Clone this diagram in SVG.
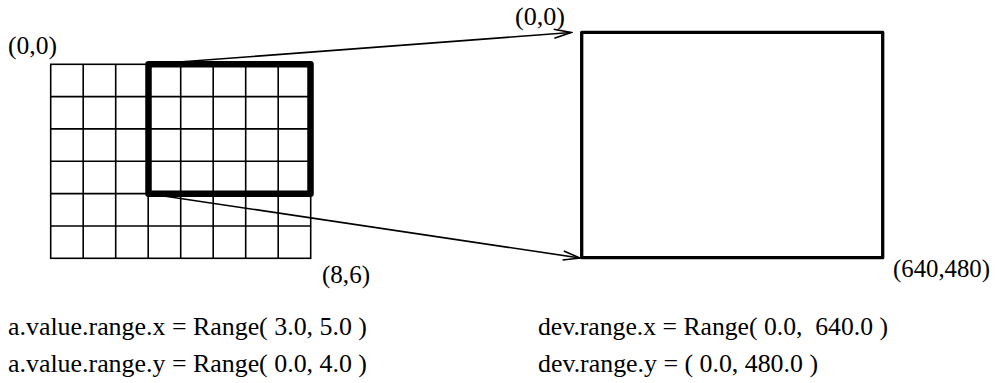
<svg xmlns="http://www.w3.org/2000/svg" width="996" height="383" viewBox="0 0 996 383">
  <style>
    .grid { stroke: #000; stroke-width: 1.6; fill: none; }
    .thick { stroke: #000; stroke-width: 6.5; fill: none; stroke-linejoin: round; }
    .dev { stroke: #000; stroke-width: 3.3; fill: none; stroke-linejoin: round; }
    .conn { stroke: #000; stroke-width: 1.6; fill: none; }
    text { font-family: "Liberation Serif", "Times New Roman", serif; font-size: 25px; fill: #000; white-space: pre; }
  </style>
  <defs>
    <marker id="arrow" markerUnits="userSpaceOnUse" viewBox="-19 -6 21 12" refX="0" refY="0" markerWidth="21" markerHeight="12" orient="auto">
      <path d="M-17,-4.5 L0,0 L-17,4.5" fill="none" stroke="#000" stroke-width="1.6" stroke-linejoin="miter"/>
    </marker>
  </defs>
  <rect width="996" height="383" fill="#fff"/>

  <g id="value-grid">
    <rect class="grid" x="50.7" y="64.3" width="260" height="194"/>
    <path class="grid" d="M83.2,64.3V258.3 M115.7,64.3V258.3 M148.2,64.3V258.3 M180.7,64.3V258.3 M213.2,64.3V258.3 M245.7,64.3V258.3 M278.2,64.3V258.3 M50.7,96.6H310.7 M50.7,128.9H310.7 M50.7,161.3H310.7 M50.7,193.6H310.7 M50.7,226H310.7"/>
    <rect class="thick" x="148.5" y="64.3" width="162" height="129.4"/>
    <text x="8" y="54" textLength="49" lengthAdjust="spacingAndGlyphs">(0,0)</text>
    <text x="322" y="283" textLength="48" lengthAdjust="spacingAndGlyphs">(8,6)</text>
  </g>

  <g id="device">
    <rect class="dev" x="581.7" y="32.3" width="301" height="225.4"/>
    <text x="515" y="25" textLength="50" lengthAdjust="spacingAndGlyphs">(0,0)</text>
    <text x="893" y="277" textLength="97" lengthAdjust="spacingAndGlyphs">(640,480)</text>
  </g>

  <g id="connectors">
    <line class="conn" x1="148.5" y1="64.3" x2="571" y2="32.5" marker-end="url(#arrow)"/>
    <line class="conn" x1="148.5" y1="193.7" x2="580" y2="258" marker-end="url(#arrow)"/>
  </g>

  <g id="value-ranges">
    <text x="8" y="335" textLength="359" lengthAdjust="spacingAndGlyphs">a.value.range.x = Range( 3.0, 5.0 )</text>
    <text x="8" y="372" textLength="359" lengthAdjust="spacingAndGlyphs">a.value.range.y = Range( 0.0, 4.0 )</text>
  </g>

  <g id="device-ranges">
    <text x="538" y="335" textLength="350" lengthAdjust="spacingAndGlyphs">dev.range.x = Range( 0.0,  640.0 )</text>
    <text x="538" y="372" textLength="280" lengthAdjust="spacingAndGlyphs">dev.range.y = ( 0.0, 480.0 )</text>
  </g>
</svg>
